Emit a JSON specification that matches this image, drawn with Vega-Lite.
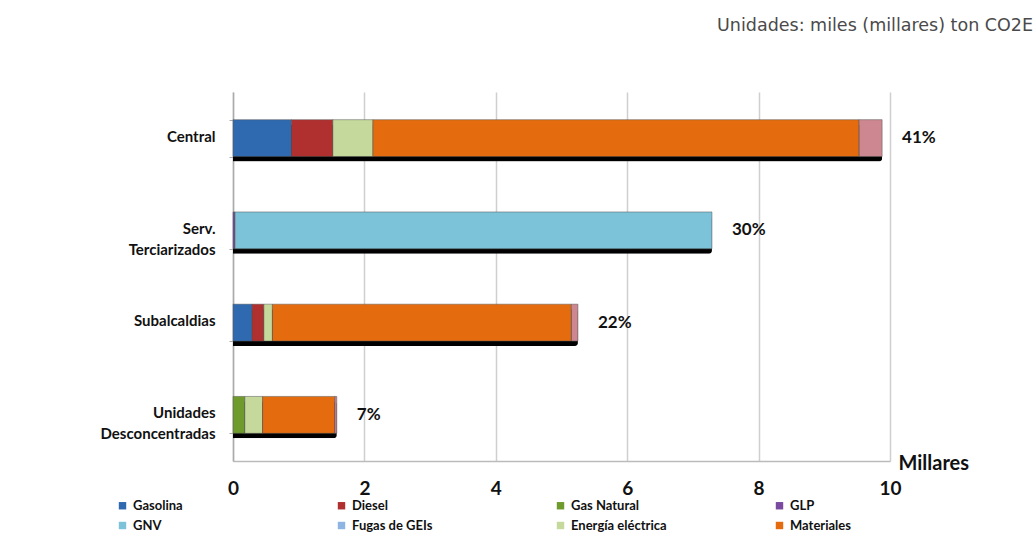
{
  "$schema": "https://vega.github.io/schema/vega-lite/v6.json",
  "width": 657,
  "height": 369,
  "autosize": {"type": "none"},
  "padding": {"left": 233, "top": 92, "right": 146, "bottom": 98},
  "background": "white",
  "title": {
    "text": "Unidades: miles (millares) ton CO2E",
    "anchor": "end",
    "frame": "group",
    "orient": "top",
    "offset": 51,
    "dx": 143,
    "font": "DejaVu Sans",
    "fontSize": 17.5,
    "fontWeight": "normal",
    "color": "#4A4A4A"
  },
  "data": {
    "values": [
      {"categoria": "Central", "fuente": "Gasolina", "orden": 1, "valor": 0.89},
      {"categoria": "Central", "fuente": "Diesel", "orden": 2, "valor": 0.63},
      {"categoria": "Central", "fuente": "Energía eléctrica", "orden": 7, "valor": 0.61},
      {"categoria": "Central", "fuente": "Materiales", "orden": 8, "valor": 7.40},
      {"categoria": "Central", "fuente": "Otros", "orden": 9, "valor": 0.35},
      {"categoria": "Serv.|Terciarizados", "fuente": "GLP", "orden": 4, "valor": 0.03},
      {"categoria": "Serv.|Terciarizados", "fuente": "GNV", "orden": 5, "valor": 7.26},
      {"categoria": "Subalcaldias", "fuente": "Gasolina", "orden": 1, "valor": 0.29},
      {"categoria": "Subalcaldias", "fuente": "Diesel", "orden": 2, "valor": 0.18},
      {"categoria": "Subalcaldias", "fuente": "Energía eléctrica", "orden": 7, "valor": 0.13},
      {"categoria": "Subalcaldias", "fuente": "Materiales", "orden": 8, "valor": 4.55},
      {"categoria": "Subalcaldias", "fuente": "Otros", "orden": 9, "valor": 0.10},
      {"categoria": "Unidades|Desconcentradas", "fuente": "Gas Natural", "orden": 3, "valor": 0.18},
      {"categoria": "Unidades|Desconcentradas", "fuente": "Energía eléctrica", "orden": 7, "valor": 0.27},
      {"categoria": "Unidades|Desconcentradas", "fuente": "Materiales", "orden": 8, "valor": 1.10},
      {"categoria": "Unidades|Desconcentradas", "fuente": "Otros", "orden": 9, "valor": 0.03}
    ]
  },
  "encoding": {
    "y": {
      "field": "categoria",
      "type": "nominal",
      "sort": ["Central", "Serv.|Terciarizados", "Subalcaldias", "Unidades|Desconcentradas"],
      "scale": {"paddingInner": 0.6, "paddingOuter": 0.3},
      "axis": {
        "title": null,
        "labelExpr": "split(datum.label, '|')",
        "labelFont": "Lato",
        "labelFontWeight": "bold",
        "labelFontSize": 15,
        "labelColor": "#111111",
        "labelPadding": 14,
        "labelOffset": -2,
        "labelLineHeight": 21,
        "tickBand": "extent",
        "tickSize": 4,
        "tickColor": "#AAAAAA",
        "domainColor": "#AAAAAA",
        "domainWidth": 1.5
      }
    }
  },
  "layer": [
    {
      "mark": {"type": "bar", "color": "#000000", "yOffset": 5, "x2Offset": 3, "cornerRadiusEnd": 3},
      "transform": [{"aggregate": [{"op": "sum", "field": "valor", "as": "total"}], "groupby": ["categoria"]}],
      "encoding": {
        "x": {
          "field": "total",
          "type": "quantitative",
          "scale": {"domain": [0, 10], "nice": false},
          "axis": {
            "values": [0, 2, 4, 6, 8, 10],
            "grid": true,
            "gridColor": "#CFCFCF",
            "gridWidth": 1.5,
            "ticks": false,
            "domainColor": "#BBBBBB",
            "domainWidth": 1.5,
            "labelExpr": "format(datum.value, 'd')",
            "labelFont": "Lato",
            "labelFontWeight": "bold",
            "labelFontSize": 19,
            "labelColor": "#111111",
            "labelPadding": 18,
            "labelFlush": false,
            "title": "Millares",
            "titleFont": "Lato",
            "titleFontWeight": "bold",
            "titleFontSize": 20,
            "titleColor": "#111111",
            "titleAnchor": "end",
            "titleAlign": "left",
            "titleBaseline": "middle",
            "titleX": 665,
            "titleY": 2
          }
        }
      }
    },
    {
      "mark": {"type": "bar", "stroke": "#555555", "strokeWidth": 0.5},
      "encoding": {
        "x": {"field": "valor", "type": "quantitative", "stack": "zero"},
        "order": {"field": "orden", "type": "quantitative", "sort": "ascending"},
        "color": {
          "field": "fuente",
          "type": "nominal",
          "scale": {
            "domain": ["Gasolina", "Diesel", "Gas Natural", "GLP", "GNV", "Fugas de GEIs", "Energía eléctrica", "Materiales", "Otros"],
            "range": ["#2F6AB0", "#B0302F", "#6E9B2C", "#7A4AA0", "#7CC3DA", "#8DB4E2", "#C5D99C", "#E46C0E", "#CC8790"]
          },
          "legend": {
            "title": null,
            "orient": "none",
            "legendX": -117,
            "legendY": 407,
            "direction": "horizontal",
            "columns": 4,
            "gridAlign": "all",
            "columnPadding": 106,
            "rowPadding": 6,
            "values": ["Gasolina", "Diesel", "Gas Natural", "GLP", "GNV", "Fugas de GEIs", "Energía eléctrica", "Materiales"],
            "symbolType": "square",
            "symbolSize": 55,
            "symbolStrokeWidth": 0,
            "labelFont": "Lato",
            "labelFontWeight": "bold",
            "labelFontSize": 13,
            "labelColor": "#111111",
            "labelOffset": 4
          }
        }
      }
    },
    {
      "mark": {"type": "text", "align": "left", "baseline": "middle", "dx": 20, "font": "Lato", "fontWeight": "bold", "fontSize": 17, "color": "#111111"},
      "transform": [
        {"aggregate": [{"op": "sum", "field": "valor", "as": "total"}], "groupby": ["categoria"]},
        {"joinaggregate": [{"op": "sum", "field": "total", "as": "grand"}]},
        {"calculate": "format(datum.total / datum.grand, '.0%')", "as": "pct"}
      ],
      "encoding": {
        "x": {"field": "total", "type": "quantitative"},
        "text": {"field": "pct", "type": "nominal"}
      }
    }
  ],
  "config": {
    "view": {"stroke": null}
  }
}
